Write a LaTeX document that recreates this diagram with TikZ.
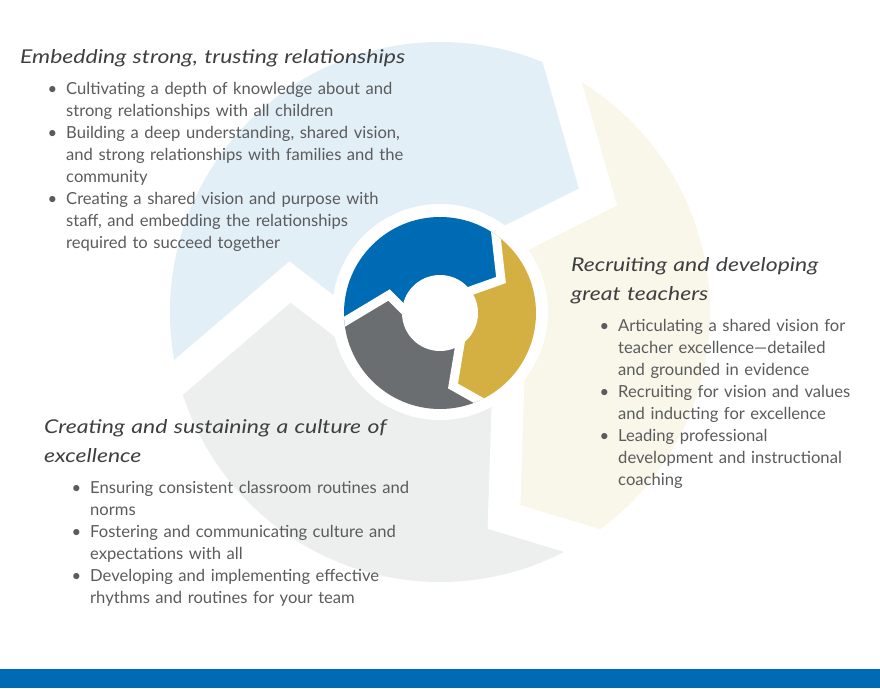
\documentclass[tikz,border=0pt]{standalone}
\usepackage{fontspec}
\setmainfont{Lato}
\newfontfamily\headfont[FakeStretch=1.21]{Lato}
\usetikzlibrary{positioning}

\definecolor{cblue}{HTML}{006BB5}
\definecolor{cgold}{HTML}{D4AF42}
\definecolor{cgray}{HTML}{6B6E70}
\definecolor{lblue}{HTML}{E3EFF7}
\definecolor{lgold}{HTML}{F9F7EA}
\definecolor{lgray}{HTML}{EDEEEE}
\definecolor{bodytxt}{HTML}{5A5B5D}
\definecolor{headtxt}{HTML}{3E3F41}

\newcommand\bul{\leavevmode\llap{\textbullet\hspace{9pt}}}

\begin{document}
\begin{tikzpicture}[x=1pt,y=-1pt,
		head/.style={anchor=base west, inner sep=0, text=headtxt, text width=420pt, align=left,
			font=\headfont\fontsize{19}{29}\selectfont\itshape},
		list/.style={anchor=base west, inner sep=0, text=bodytxt, text width=420pt, align=left,
			font=\fontsize{16.6}{22}\selectfont},
		gap/.style={draw=white, line join=miter, miter limit=20}]
		\useasboundingbox (0,0) rectangle (880,688);

		% big faded cycle
		\coordinate (j1o) at (546,16);  \coordinate (j1t) at (598,197); \coordinate (j1i) at (478,257);
		\coordinate (j2o) at (627,554); \coordinate (j2t) at (504,517); \coordinate (j2i) at (510,330);
		\coordinate (j3o) at (124,424); \coordinate (j3t) at (290,282); \coordinate (j3i) at (376,348);
		\begin{scope}
			\clip (440,312) circle[radius=270];
			\fill[lblue] (j3i) -- (j3t) -- (j3o) -- (50,100) -- (440,-100) -- (j1o) -- (j1t) -- (j1i) -- cycle;
			\fill[lgold] (j1i) -- (j1t) -- (j1o) -- (800,0) -- (850,600) -- (j2o) -- (j2t) -- (j2i) -- cycle;
			\fill[lgray] (j2i) -- (j2t) -- (j2o) -- (600,800) -- (100,700) -- (j3o) -- (j3t) -- (j3i) -- cycle;
		\end{scope}
		\foreach \j in {j1,j2,j3}
			\draw[gap, line width=32pt] (\j o) -- (\j t) -- (\j i);
		\fill[white] (440,312) circle[radius=108];

		% small cycle
		\coordinate (k1o) at (491,192); \coordinate (k1t) at (501,280); \coordinate (k1i) at (456,296);
		\coordinate (k2o) at (515,421); \coordinate (k2t) at (453,386); \coordinate (k2i) at (464,320);
		\coordinate (k3o) at (299,349); \coordinate (k3t) at (389,295); \coordinate (k3i) at (419,325);
		\begin{scope}
			\clip (440,313) circle[radius=96];
			\fill[cblue] (k3i) -- (k3t) -- (k3o) -- (250,150) -- (440,100) -- (k1o) -- (k1t) -- (k1i) -- cycle;
			\fill[cgold] (k1i) -- (k1t) -- (k1o) -- (620,200) -- (620,460) -- (k2o) -- (k2t) -- (k2i) -- cycle;
			\fill[cgray] (k2i) -- (k2t) -- (k2o) -- (460,560) -- (250,480) -- (k3o) -- (k3t) -- (k3i) -- cycle;
			\foreach \k in {k1,k2,k3}
				\draw[gap, line width=9pt] (\k o) -- (\k t) -- (\k i);
		\end{scope}
		\fill[white] (440,313) circle[radius=38];

		% texts
		\node[head] (h1) at (20,63) {Embedding strong, trusting relationships};
		\node[list] (l1) at (66,94) {\bul Cultivating a depth of knowledge about and\\
			strong relationships with all children\\
			\bul Building a deep understanding, shared vision,\\
			and strong relationships with families and the\\
			community\\
			\bul Creating a shared vision and purpose with\\
			staff, and embedding the relationships\\
			required to succeed together};

		\node[head] (h2) at (571,271) {Recruiting and developing\\great teachers};
		\node[list] (l2) at (618,331) {\bul Articulating a shared vision for\\
			teacher excellence—detailed\\
			and grounded in evidence\\
			\bul Recruiting for vision and values\\
			and inducting for excellence\\
			\bul Leading professional\\
			development and instructional\\
			coaching};

		\node[head] (h3) at (44,433) {Creating and sustaining a culture of\\excellence};
		\node[list] (l3) at (90,493) {\bul Ensuring consistent classroom routines and\\
			norms\\
			\bul Fostering and communicating culture and\\
			expectations with all\\
			\bul Developing and implementing effective\\
			rhythms and routines for your team};

		\fill[cblue] (0,669) rectangle (880,688);
	\end{tikzpicture}
\end{document}
